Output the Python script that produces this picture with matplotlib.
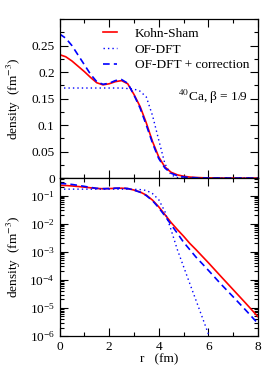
import numpy as np
import matplotlib
matplotlib.use("Agg")
import matplotlib.pyplot as plt
from matplotlib.ticker import MultipleLocator, LogLocator, NullFormatter, FixedLocator

plt.rcParams['font.family'] = ['Liberation Serif', 'DejaVu Serif']
plt.rcParams['mathtext.fontset'] = 'stix'
plt.rcParams['font.size'] = 9.6

# radial grid (fm)
r = [0, 0.25, 0.5, 0.75, 1.0, 1.25, 1.5, 1.75, 2.0, 2.25, 2.5, 2.75, 3.0,
     3.25, 3.5, 3.75, 4.0, 4.25, 4.5, 4.75, 5.0, 5.25, 5.5, 5.75, 6.0,
     6.5, 7.0, 7.5, 8.0]

# Kohn-Sham density (fm^-3)
rho_ks = [0.233, 0.229, 0.221, 0.211, 0.201, 0.190, 0.180, 0.176, 0.178,
          0.182, 0.184, 0.178, 0.158, 0.135, 0.104, 0.069, 0.040, 0.021,
          0.0110, 0.0062, 0.0036, 2.0e-3, 1.2e-3, 7.0e-4, 4.1e-4,
          1.35e-4, 4.5e-5, 1.5e-5, 4.9e-6]

# OF-DFT density
rho_of = [0.170, 0.170, 0.170, 0.170, 0.170, 0.170, 0.170, 0.170, 0.170,
          0.170, 0.170, 0.169, 0.168, 0.164, 0.153, 0.118, 0.072, 0.027,
          0.0060, 1.2e-3, 3.0e-4, 7.5e-5, 1.9e-5, 4.8e-6, 1.2e-6,
          8e-8, 5e-9, 3e-10, 2e-11]

# OF-DFT + correction density
rho_corr = [0.272, 0.264, 0.250, 0.232, 0.214, 0.196, 0.182, 0.177, 0.179,
            0.184, 0.186, 0.179, 0.157, 0.132, 0.100, 0.066, 0.037, 0.019,
            0.0092, 0.0046, 0.0022, 1.2e-3, 6.5e-4, 3.8e-4, 2.2e-4,
            7.2e-5, 2.5e-5, 8.5e-6, 2.8e-6]

fig = plt.figure(figsize=(2.77, 3.75), dpi=100)
ax1 = fig.add_axes([0.215, 0.525, 0.716, 0.424])
ax2 = fig.add_axes([0.215, 0.104, 0.716, 0.421])

for ax in (ax1, ax2):
    ax.plot(r, rho_ks, color='red', lw=1.2, label='Kohn-Sham')
    ax.plot(r, rho_of, color='blue', lw=1.0, ls=(0, (1, 2.2)), label='OF-DFT')
    ax.plot(r, rho_corr, color='blue', lw=1.2, ls=(0, (4, 2.5)),
            label='OF-DFT + correction')
    ax.set_xlim(0, 8)
    ax.xaxis.set_major_locator(MultipleLocator(2))
    ax.xaxis.set_minor_locator(MultipleLocator(1))
    ax.tick_params(which='both', direction='in', top=True, right=True)
    ax.tick_params(which='major', length=5.5, width=0.8)
    ax.tick_params(which='minor', length=3, width=0.8)
    ax.set_ylabel(r'density  (fm$^{-3}$)')
    ax.yaxis.set_label_coords(-0.185, 0.5)
    for s in ax.spines.values():
        s.set_linewidth(0.9)

ax1.set_ylim(0, 0.3)
ax1.yaxis.set_major_locator(FixedLocator([0, 0.05, 0.1, 0.15, 0.2, 0.25]))
ax1.yaxis.set_minor_locator(MultipleLocator(0.025))
ax1.set_yticklabels(['0', '0.05', '0.1', '0.15', '0.2', '0.25'])
ax1.tick_params(labelbottom=False)
ax1.legend(loc='upper right', frameon=False, handlelength=1.1,
           handletextpad=1.3, labelspacing=0.25, borderaxespad=0.2,
           borderpad=0.45, bbox_to_anchor=(1.0, 1.0))
ax1.text(7.6, 0.137, '$^{40}$Ca, β = 1/9', ha='right', va='bottom')

ax2.set_yscale('log')
ax2.set_ylim(1e-6, 0.42)
ax2.yaxis.set_major_locator(LogLocator(base=10, numticks=10))
ax2.yaxis.set_minor_locator(LogLocator(base=10, subs=np.arange(2, 10), numticks=20))
ax2.yaxis.set_minor_formatter(NullFormatter())
ax2.set_xlabel('r   (fm)', labelpad=0)

fig.savefig('out.png', dpi=100)
